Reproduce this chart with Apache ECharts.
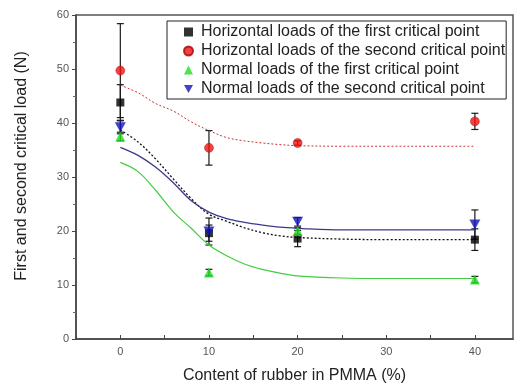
<!DOCTYPE html>
<html>
<head>
<meta charset="utf-8">
<script src="https://cdn.jsdelivr.net/npm/echarts@6/dist/echarts.min.js"></script>
<style>
html,body{margin:0;padding:0;background:#fff;}
#chart{width:524px;height:389px;}
</style>
</head>
<body>
<div id="chart"></div>
<script>
// ---- data ----
var xs = [0, 10, 20, 40];
var hFirst = [43.8, 19.6, 18.6, 18.4];
var hFirstErr = [3.3, 1.5, 1.5, 2.0];
var hSecond = [49.7, 35.4, 36.3, 40.3];
var hSecondErr = [8.7, 3.2, 0.4, 1.5];
var nFirst = [37.5, 12.3, 20.0, 11.0];
var nFirstErr = [0.8, 0.6, 0.6, 0.6];
var nSecond = [39.2, 19.9, 21.7, 21.2];
var nSecondErr = [1.2, 2.5, 0.8, 2.7];

// fitted curves
var fitX = [0, 2, 4, 6, 8, 10, 12, 14, 16, 18, 20, 25, 30, 35, 40];
var fitHFirst = [38.7, 36.5, 33.3, 29.6, 26.0, 23.1, 21.8, 20.6, 19.7, 19.1, 18.8, 18.5, 18.4, 18.4, 18.4];
var fitHSecond = [47.0, 45.6, 43.6, 42.2, 40.2, 38.6, 37.3, 36.7, 36.3, 36.0, 35.8, 35.7, 35.7, 35.7, 35.7];
var fitNFirst = [32.7, 31.0, 27.5, 23.5, 20.5, 17.4, 15.4, 13.9, 12.9, 12.2, 11.7, 11.3, 11.2, 11.2, 11.2];
var fitNSecond = [35.5, 34.0, 31.8, 28.9, 25.6, 23.5, 22.3, 21.6, 21.1, 20.7, 20.5, 20.2, 20.2, 20.2, 20.2];

var names = [
  'Horizontal loads of the first critical point',
  'Horizontal loads of the second critical point',
  'Normal loads of the first critical point',
  'Normal loads of the second critical point'
];
var xTickLabels = [0, 10, 20, 30, 40];
var yAxisTitle = 'First and second critical load (N)';
var xAxisTitle = 'Content of rubber in PMMA (%)';

var downTri = 'path://M0,0L10,0L5,9Z';

function pairs(xa, ya) { return xa.map(function (x, i) { return [x, ya[i]]; }); }

function errSeries(vals, errs) {
  return {
    type: 'custom',
    silent: true,
    z: 1,
    data: xs.map(function (x, i) { return [x, vals[i] - errs[i], vals[i] + errs[i]]; }),
    encode: { x: 0, y: [1, 2] },
    renderItem: function (params, api) {
      var x = api.value(0);
      var lo = api.coord([x, api.value(1)]);
      var hi = api.coord([x, api.value(2)]);
      var w = 3.5;
      var st = { stroke: '#1a1a1a', lineWidth: 1.2 };
      return {
        type: 'group',
        children: [
          { type: 'line', shape: { x1: lo[0], y1: lo[1], x2: hi[0], y2: hi[1] }, style: st },
          { type: 'line', shape: { x1: lo[0] - w, y1: lo[1], x2: lo[0] + w, y2: lo[1] }, style: st },
          { type: 'line', shape: { x1: hi[0] - w, y1: hi[1], x2: hi[0] + w, y2: hi[1] }, style: st }
        ]
      };
    }
  };
}

function fitSeries(ys, color, type, width) {
  return {
    type: 'line',
    data: pairs(fitX, ys),
    showSymbol: false,
    smooth: 0.35,
    silent: true,
    z: 1,
    lineStyle: { color: color, type: type, width: width }
  };
}

var chart = echarts.init(document.getElementById('chart'), null, { renderer: 'canvas' });
var font = 'Liberation Sans, Arial, sans-serif';

chart.setOption({
  backgroundColor: '#fff',
  animation: false,
  textStyle: { fontFamily: font },
  grid: { left: 76, top: 15, right: 11, bottom: 49, show: true, borderColor: '#555', borderWidth: 1.5 },
  xAxis: {
    type: 'value', min: -5, max: 44.3, interval: 5,
    name: xAxisTitle, nameLocation: 'middle', nameGap: 29,
    nameTextStyle: { fontSize: 16, color: '#222', fontFamily: font },
    axisLine: { onZero: false, lineStyle: { color: '#444', width: 1.5 } },
    axisTick: { inside: true, length: 4, lineStyle: { color: '#444' } },
    axisLabel: {
      fontSize: 11, color: '#555', margin: 7,
      showMaxLabel: false,
      formatter: function (v) { return xTickLabels.indexOf(v) >= 0 ? String(v) : ''; }
    },
    splitLine: { show: false }
  },
  yAxis: {
    type: 'value', min: 0, max: 60, interval: 10,
    axisLine: { show: true, onZero: false, lineStyle: { color: '#444', width: 1.5 } },
    axisTick: { show: true, length: 4, lineStyle: { color: '#444' } },
    minorTick: { show: true, splitNumber: 2, length: 3, lineStyle: { color: '#666' } },
    axisLabel: { fontSize: 11, color: '#555', margin: 7 },
    splitLine: { show: false }
  },
  legend: {
    data: [
      { name: names[0] },
      { name: names[1] },
      { name: names[2] },
      { name: names[3], icon: downTri }
    ],
    orient: 'vertical',
    left: 167, top: 21,
    padding: [3, 1, 2, 16],
    itemGap: 3,
    itemWidth: 9, itemHeight: 9,
    borderColor: '#222', borderWidth: 1,
    backgroundColor: '#fff',
    textStyle: { fontSize: 16, color: '#222', fontFamily: font, padding: [0, 0, 0, 3] }
  },
  graphic: [{
    type: 'text',
    x: 22, y: 166,
    rotation: Math.PI / 2,
    style: {
      text: yAxisTitle, fontSize: 16, fill: '#222', fontFamily: font,
      align: 'center', verticalAlign: 'middle'
    }
  }],
  series: [
    fitSeries(fitHSecond, '#cc3333', [2, 2], 1),
    fitSeries(fitHFirst, '#111', [2, 2], 1.3),
    fitSeries(fitNSecond, '#3a3a8c', 'solid', 1.3),
    fitSeries(fitNFirst, '#44cc44', 'solid', 1.2),
    errSeries(hSecond, hSecondErr),
    errSeries(hFirst, hFirstErr),
    errSeries(nFirst, nFirstErr),
    errSeries(nSecond, nSecondErr),
    { name: names[0], type: 'scatter', z: 3, data: pairs(xs, hFirst), symbol: 'rect', symbolSize: 8,
      itemStyle: { color: '#000' } },
    { name: names[1], type: 'scatter', z: 3, data: pairs(xs, hSecond), symbol: 'circle', symbolSize: 9,
      itemStyle: { color: '#ee1111', borderColor: '#aa0000', borderWidth: 0.5 } },
    { name: names[2], type: 'scatter', z: 3, data: pairs(xs, nFirst), symbol: 'triangle', symbolSize: 10,
      itemStyle: { color: '#22dd22' } },
    { name: names[3], type: 'scatter', z: 4, data: pairs(xs, nSecond), symbol: downTri, symbolSize: [11, 10],
      itemStyle: { color: '#1111bb' } }
  ]
});
</script>
</body>
</html>
